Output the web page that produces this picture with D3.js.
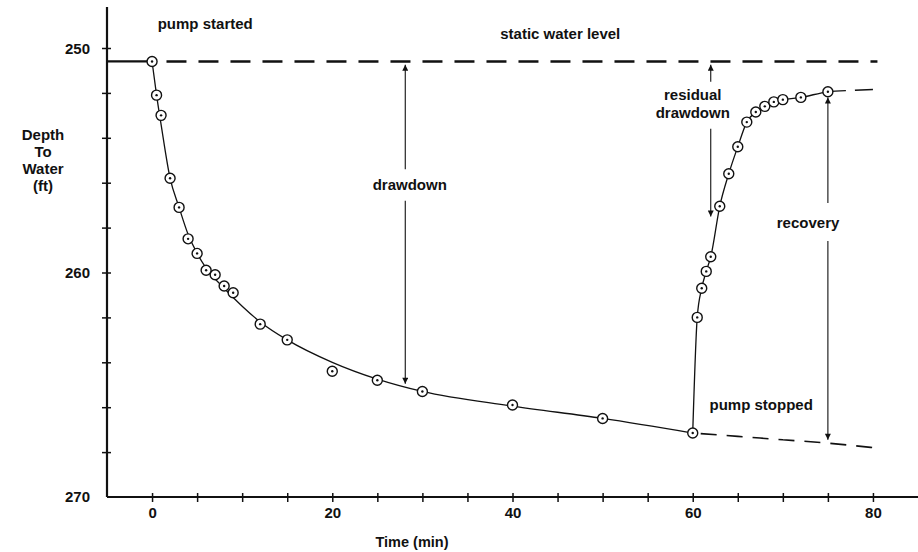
<!DOCTYPE html>
<html>
<head>
<meta charset="utf-8">
<script src="https://cdn.jsdelivr.net/npm/d3@7/dist/d3.min.js"></script>
<style>
  body { margin: 0; background: #fff; }
  svg text { font-family: "Liberation Sans", Arial, sans-serif; font-weight: bold; fill: #111; }
</style>
</head>
<body>
<div id="chart"></div>
<script>
// pumping phase (drawdown) observations
const pumpTime = [0, 0.5, 1, 2, 3, 4, 5, 6, 7, 8, 9, 12, 15, 20, 25, 30, 40, 50, 60];
const pumpDepth = [250.6, 252.1, 253.0, 255.8, 257.1, 258.5, 259.15, 259.9, 260.1, 260.6, 260.9, 262.3, 263.0, 264.4, 264.8, 265.3, 265.9, 266.5, 267.15];

// hand-fitted drawdown curve
const fitTime = [0, 0.5, 1, 2, 3, 4, 5, 6, 8, 10, 12, 15, 20, 25, 30, 40, 50, 60];
const fitDepth = [250.6, 252.1, 253.4, 255.8, 257.1, 258.3, 259.15, 259.8, 260.7, 261.5, 262.2, 263.0, 264.0, 264.75, 265.3, 265.95, 266.5, 267.15];

// recovery phase after pump stopped at 60 min
const recTime = [60.5, 61, 61.5, 62, 63, 64, 65, 66, 67, 68, 69, 70, 72, 75];
const recDepth = [262.0, 260.7, 259.95, 259.3, 257.05, 255.6, 254.4, 253.3, 252.85, 252.6, 252.4, 252.3, 252.2, 251.95];
const recTailTime = [75, 77];
const recTailDepth = [251.95, 251.9];
const recDashTime = [78, 80];
const recDashDepth = [251.88, 251.85];

// projected drawdown had the pump kept running
const trendTime = [60, 65, 70, 75, 80];
const trendDepth = [267.15, 267.3, 267.45, 267.6, 267.8];

const staticLevel = 250.6;

const xTicks = d3.range(0, 81, 5);
const xLabels = [0, 20, 40, 60, 80];
const yTicks = d3.range(250, 269, 2);
const yLabels = [250, 260, 270];

const zip = (xs, ys) => xs.map((t, i) => ({ t, d: ys[i] }));

const drawChart = () => {
  const width = 918;
  const height = 552;

  const x = d3.scaleLinear().domain([-5, 85]).range([107, 918]);
  const y = d3.scaleLinear().domain([250, 270]).range([48, 497]);

  const svg = d3
    .select("#chart")
    .append("svg")
    .attr("width", width)
    .attr("height", height);

  svg
    .append("defs")
    .append("marker")
    .attr("id", "arrow")
    .attr("viewBox", "0 0 10 10")
    .attr("refX", 10)
    .attr("refY", 5)
    .attr("markerWidth", 7)
    .attr("markerHeight", 6)
    .attr("markerUnits", "userSpaceOnUse")
    .attr("orient", "auto-start-reverse")
    .append("path")
    .attr("d", "M0,0 L10,5 L0,10 z")
    .attr("fill", "#111");

  // axes
  const yAxis = d3
    .axisLeft(y)
    .tickValues(yTicks)
    .tickSize(5)
    .tickPadding(12)
    .tickFormat(d => (yLabels.includes(d) ? d : ""));
  const gy = svg.append("g").attr("transform", `translate(${x(-5)},0)`).call(yAxis);
  gy.select(".domain").remove();
  gy.selectAll("line").attr("x1", 4).attr("stroke", "#111").attr("stroke-width", 1.5);
  gy.selectAll("text").attr("font-size", 15).attr("dy", "0.36em");
  gy.append("text")
    .attr("x", -17)
    .attr("y", y(270))
    .attr("dy", "0.36em")
    .attr("text-anchor", "end")
    .attr("font-size", 15)
    .text(yLabels[2]);

  const xAxis = d3
    .axisBottom(x)
    .tickValues(xTicks)
    .tickSize(5)
    .tickPadding(5)
    .tickFormat(d => (xLabels.includes(d) ? d : ""));
  const gx = svg.append("g").attr("transform", `translate(0,${y(270)})`).call(xAxis);
  gx.select(".domain").remove();
  gx.selectAll("line").attr("y1", -4).attr("stroke", "#111").attr("stroke-width", 1.5);
  gx.selectAll("text").attr("font-size", 15);

  svg
    .append("line")
    .attr("x1", x(-5))
    .attr("x2", x(-5))
    .attr("y1", 7)
    .attr("y2", y(270))
    .attr("stroke", "#111")
    .attr("stroke-width", 2.2);
  svg
    .append("line")
    .attr("x1", x(-5))
    .attr("x2", width)
    .attr("y1", y(270))
    .attr("y2", y(270))
    .attr("stroke", "#111")
    .attr("stroke-width", 2.2);

  svg
    .append("text")
    .attr("x", 412)
    .attr("y", 547)
    .attr("text-anchor", "middle")
    .attr("font-size", 14.5)
    .text("Time (min)");

  svg
    .append("text")
    .attr("text-anchor", "middle")
    .attr("font-size", 15)
    .selectAll("tspan")
    .data(["Depth", "To", "Water", "(ft)"])
    .enter()
    .append("tspan")
    .attr("x", 43)
    .attr("y", (d, i) => 140 + i * 17)
    .text(d => d);

  // static water level
  svg
    .append("line")
    .attr("x1", x(-5))
    .attr("x2", x(0))
    .attr("y1", y(staticLevel))
    .attr("y2", y(staticLevel))
    .attr("stroke", "#111")
    .attr("stroke-width", 2.2);
  svg
    .append("line")
    .attr("x1", x(1.6))
    .attr("x2", x(80.5))
    .attr("y1", y(staticLevel))
    .attr("y2", y(staticLevel))
    .attr("stroke", "#111")
    .attr("stroke-width", 2.4)
    .attr("stroke-dasharray", "20 12");

  const line = d3
    .line()
    .x(p => x(p.t))
    .y(p => y(p.d))
    .curve(d3.curveMonotoneX);

  const pump = zip(pumpTime, pumpDepth);
  const fit = zip(fitTime, fitDepth);
  const rec = zip(recTime, recDepth);
  const last = fit[fit.length - 1];

  svg.append("path").attr("d", line(fit)).attr("fill", "none").attr("stroke", "#111").attr("stroke-width", 1.3);
  svg
    .append("path")
    .attr("d", line([last, ...rec, ...zip(recTailTime, recTailDepth).slice(1)]))
    .attr("fill", "none")
    .attr("stroke", "#111")
    .attr("stroke-width", 1.3);
  svg
    .append("path")
    .attr("d", line(zip(recDashTime, recDashDepth)))
    .attr("fill", "none")
    .attr("stroke", "#111")
    .attr("stroke-width", 1.6);
  svg
    .append("path")
    .attr("d", line(zip(trendTime, trendDepth)))
    .attr("fill", "none")
    .attr("stroke", "#111")
    .attr("stroke-width", 1.6)
    .attr("stroke-dasharray", "16 10")
    .attr("stroke-dashoffset", -8);

  // observation markers
  const marks = svg.selectAll("g.obs").data([...pump, ...rec]).enter().append("g").attr("class", "obs");
  marks
    .append("circle")
    .attr("cx", p => x(p.t))
    .attr("cy", p => y(p.d))
    .attr("r", 5)
    .attr("fill", "#fff")
    .attr("stroke", "#111")
    .attr("stroke-width", 1.4);
  marks
    .append("circle")
    .attr("cx", p => x(p.t))
    .attr("cy", p => y(p.d))
    .attr("r", 1.2)
    .attr("fill", "#111");

  // annotation arrows (data coords)
  const arrows = [
    { t: 28.1, d0: 255.4, d1: 250.75 },
    { t: 28.1, d0: 256.8, d1: 264.95 },
    { t: 62.0, d0: 251.5, d1: 250.75 },
    { t: 62.0, d0: 253.6, d1: 257.5 },
    { t: 75.0, d0: 256.9, d1: 252.2 },
    { t: 75.0, d0: 258.6, d1: 267.45 }
  ];
  svg
    .selectAll("line.arrow")
    .data(arrows)
    .enter()
    .append("line")
    .attr("class", "arrow")
    .attr("x1", a => x(a.t))
    .attr("x2", a => x(a.t))
    .attr("y1", a => y(a.d0))
    .attr("y2", a => y(a.d1))
    .attr("stroke", "#111")
    .attr("stroke-width", 1.1)
    .attr("marker-end", "url(#arrow)");

  const notes = [
    { t: 5.9, d: 248.9, text: "pump started" },
    { t: 45.3, d: 249.35, text: "static water level" },
    { t: 28.6, d: 256.1, text: "drawdown" },
    { t: 60.0, d: 252.1, text: "residual" },
    { t: 60.0, d: 252.9, text: "drawdown" },
    { t: 72.8, d: 257.8, text: "recovery" },
    { t: 67.6, d: 265.9, text: "pump stopped" }
  ];
  svg
    .selectAll("text.note")
    .data(notes)
    .enter()
    .append("text")
    .attr("class", "note")
    .attr("x", n => x(n.t))
    .attr("y", n => y(n.d))
    .attr("dy", "0.35em")
    .attr("text-anchor", "middle")
    .attr("font-size", 15)
    .text(n => n.text);
};

window.onload = drawChart;
</script>
</body>
</html>
